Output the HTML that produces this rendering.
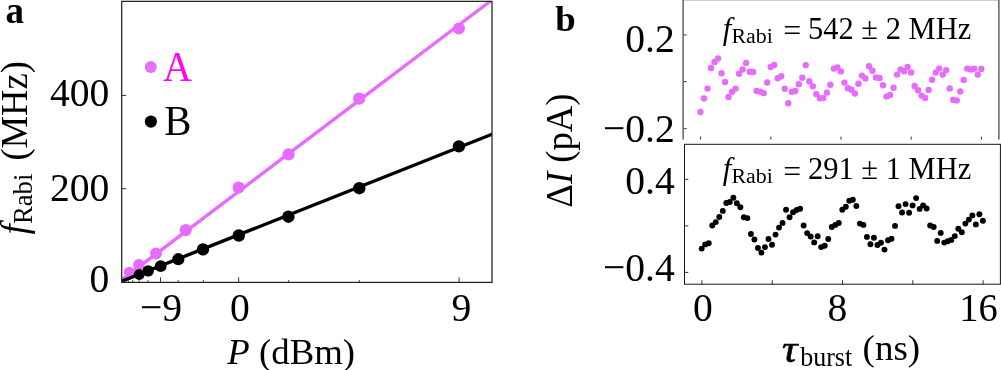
<!DOCTYPE html>
<html><head><meta charset="utf-8"><title>Figure</title>
<style>html,body{margin:0;padding:0;background:#fff;overflow:hidden}body{width:1001px;height:370px;position:relative}</style></head>
<body>
<svg width="1001" height="370" viewBox="0 0 1001 370" style="position:absolute;left:0;top:0">
<rect width="1001" height="370" fill="#fff"/>
<clipPath id="ca"><rect x="121.7" y="1.35" width="370.3" height="281.04999999999995"/></clipPath>
<g clip-path="url(#ca)">
<line x1="118" y1="282.7" x2="495" y2="-2.3" stroke="#e76bff" stroke-width="3.4"/>
<circle cx="129.3" cy="272.2" r="5.5" fill="#e76bff"/>
<circle cx="138.9" cy="264.8" r="5.7" fill="#e76bff"/>
<circle cx="156" cy="253.5" r="5.9" fill="#e76bff"/>
<circle cx="185.7" cy="230.1" r="6.1" fill="#e76bff"/>
<circle cx="238.6" cy="187.5" r="6.1" fill="#e76bff"/>
<circle cx="288.5" cy="154.4" r="6.1" fill="#e76bff"/>
<circle cx="359.2" cy="98.6" r="6.1" fill="#e76bff"/>
<circle cx="458.9" cy="28.5" r="6.1" fill="#e76bff"/>
<line x1="118" y1="282.7" x2="495" y2="133.1" stroke="#000" stroke-width="3.4"/>
<circle cx="139.3" cy="274.5" r="5.4" fill="#000"/>
<circle cx="148.2" cy="270.9" r="5.7" fill="#000"/>
<circle cx="160.7" cy="266.2" r="5.9" fill="#000"/>
<circle cx="178.3" cy="259.2" r="6.1" fill="#000"/>
<circle cx="203" cy="249.4" r="6.2" fill="#000"/>
<circle cx="238.8" cy="235.5" r="6.2" fill="#000"/>
<circle cx="288.4" cy="216.7" r="6.2" fill="#000"/>
<circle cx="359.3" cy="188.2" r="6.2" fill="#000"/>
<circle cx="458.9" cy="146.4" r="6.2" fill="#000"/>
</g>
<rect x="121.7" y="1.35" width="370.3" height="281.04999999999995" fill="none" stroke="#222" stroke-width="1.25"/>
<line x1="122.9" y1="282.4" x2="122.9" y2="280.2" stroke="#333" stroke-width="1"/>
<line x1="125.1" y1="282.4" x2="125.1" y2="280.2" stroke="#333" stroke-width="1"/>
<line x1="128.3" y1="282.4" x2="128.3" y2="280.2" stroke="#333" stroke-width="1"/>
<line x1="132.8" y1="282.4" x2="132.8" y2="280.2" stroke="#333" stroke-width="1"/>
<line x1="139.1" y1="282.4" x2="139.1" y2="280.2" stroke="#333" stroke-width="1"/>
<line x1="147.9" y1="282.4" x2="147.9" y2="280.2" stroke="#333" stroke-width="1"/>
<line x1="160.5" y1="282.4" x2="160.5" y2="277.4" stroke="#333" stroke-width="1"/>
<line x1="178.2" y1="282.4" x2="178.2" y2="280.2" stroke="#333" stroke-width="1"/>
<line x1="203.3" y1="282.4" x2="203.3" y2="280.2" stroke="#333" stroke-width="1"/>
<line x1="238.7" y1="282.4" x2="238.7" y2="277.4" stroke="#333" stroke-width="1"/>
<line x1="288.7" y1="282.4" x2="288.7" y2="280.2" stroke="#333" stroke-width="1"/>
<line x1="359.3" y1="282.4" x2="359.3" y2="280.2" stroke="#333" stroke-width="1"/>
<line x1="459.1" y1="282.4" x2="459.1" y2="277.4" stroke="#333" stroke-width="1"/>
<line x1="121.7" y1="95.4" x2="126.2" y2="95.4" stroke="#333" stroke-width="1"/>
<line x1="121.7" y1="188.7" x2="126.2" y2="188.7" stroke="#333" stroke-width="1"/>
<circle cx="150.8" cy="67" r="6.0" fill="#e572f6"/>
<circle cx="150.9" cy="121.6" r="6.1" fill="#000"/>
<g font-family="'Liberation Serif', serif" fill="#000">
<text transform="translate(163,80.6) scale(1,1.08)" font-size="40" text-anchor="start" fill="#ff00ff">A</text>
<text transform="translate(164.2,134.8) scale(1.02,1.07)" font-size="40" text-anchor="start">B</text>
<text transform="translate(5.6,23.4)" font-size="37" text-anchor="start" font-weight="bold">a</text>
<text transform="translate(555.2,30.9)" font-size="36.8" text-anchor="start" font-weight="bold">b</text>
<text transform="translate(109.3,106) scale(1,1.035)" font-size="39.6" text-anchor="end">400</text>
<text transform="translate(109.3,201.4) scale(1,1.035)" font-size="39.6" text-anchor="end">200</text>
<text transform="translate(109.3,292) scale(1,1.035)" font-size="39.6" text-anchor="end">0</text>
<text transform="translate(161,321) scale(1,1.035)" font-size="39.6" text-anchor="middle">−9</text>
<text transform="translate(239.9,321) scale(1,1.035)" font-size="39.6" text-anchor="middle">0</text>
<text transform="translate(461.4,321) scale(1,1.035)" font-size="39.6" text-anchor="middle">9</text>
<text transform="translate(227.3,363.7)" font-size="36.8" text-anchor="start"><tspan font-style="italic">P</tspan> (dBm)</text>
<text transform="translate(26.5,234.4) rotate(-90) scale(1,1.03)" font-size="37" text-anchor="start" font-style="italic">f</text>
<text transform="translate(31.9,224.1) rotate(-90) scale(1,1.03)" font-size="26.7" text-anchor="start">Rabi</text>
<text transform="translate(26.5,160.6) rotate(-90) scale(1,1.04)" font-size="36.6" text-anchor="start">(MHz)</text>
</g>
<path d="M683.1 139.6 V-0.25 H998.9 V139.6" fill="none" stroke="#3a3a3a" stroke-width="1.2"/>
<line x1="700.6" y1="139.6" x2="700.6" y2="136.6" stroke="#333" stroke-width="1"/>
<line x1="770.8" y1="139.6" x2="770.8" y2="136.6" stroke="#333" stroke-width="1"/>
<line x1="841.0" y1="139.6" x2="841.0" y2="136.6" stroke="#333" stroke-width="1"/>
<line x1="911.2" y1="139.6" x2="911.2" y2="136.6" stroke="#333" stroke-width="1"/>
<line x1="981.4" y1="139.6" x2="981.4" y2="136.6" stroke="#333" stroke-width="1"/>
<line x1="683.1" y1="34.9" x2="686.9" y2="34.9" stroke="#555" stroke-width="1"/>
<line x1="683.1" y1="81.6" x2="686.9" y2="81.6" stroke="#555" stroke-width="1"/>
<line x1="683.1" y1="128.6" x2="686.9" y2="128.6" stroke="#555" stroke-width="1"/>
<rect x="684.5" y="144.3" width="315.9" height="139.89999999999998" fill="none" stroke="#151515" stroke-width="1"/>
<line x1="701.9" y1="284.2" x2="701.9" y2="280.2" stroke="#333" stroke-width="1"/>
<line x1="772.2" y1="284.2" x2="772.2" y2="280.2" stroke="#333" stroke-width="1"/>
<line x1="842.5" y1="284.2" x2="842.5" y2="280.2" stroke="#333" stroke-width="1"/>
<line x1="912.8" y1="284.2" x2="912.8" y2="280.2" stroke="#333" stroke-width="1"/>
<line x1="983.1" y1="284.2" x2="983.1" y2="280.2" stroke="#333" stroke-width="1"/>
<line x1="684.5" y1="179.4" x2="688.3" y2="179.4" stroke="#333" stroke-width="1"/>
<line x1="684.5" y1="225.9" x2="688.3" y2="225.9" stroke="#333" stroke-width="1"/>
<line x1="684.5" y1="272.4" x2="688.3" y2="272.4" stroke="#333" stroke-width="1"/>
<circle cx="700.50" cy="112.0" r="3.2" fill="#e76bff"/>
<circle cx="704.01" cy="98.4" r="3.2" fill="#e76bff"/>
<circle cx="707.52" cy="88.6" r="3.2" fill="#e76bff"/>
<circle cx="711.03" cy="68" r="3.2" fill="#e76bff"/>
<circle cx="714.54" cy="61.9" r="3.2" fill="#e76bff"/>
<circle cx="718.05" cy="58.5" r="3.2" fill="#e76bff"/>
<circle cx="721.56" cy="73.3" r="3.2" fill="#e76bff"/>
<circle cx="725.07" cy="82" r="3.2" fill="#e76bff"/>
<circle cx="728.58" cy="96.9" r="3.2" fill="#e76bff"/>
<circle cx="732.09" cy="91.8" r="3.2" fill="#e76bff"/>
<circle cx="735.60" cy="88.6" r="3.2" fill="#e76bff"/>
<circle cx="739.11" cy="73.8" r="3.2" fill="#e76bff"/>
<circle cx="742.62" cy="69.5" r="3.2" fill="#e76bff"/>
<circle cx="746.13" cy="62.9" r="3.2" fill="#e76bff"/>
<circle cx="749.64" cy="71.8" r="3.2" fill="#e76bff"/>
<circle cx="753.15" cy="72" r="3.2" fill="#e76bff"/>
<circle cx="756.66" cy="90.9" r="3.2" fill="#e76bff"/>
<circle cx="760.17" cy="91.6" r="3.2" fill="#e76bff"/>
<circle cx="763.68" cy="93.1" r="3.2" fill="#e76bff"/>
<circle cx="767.19" cy="82.5" r="3.2" fill="#e76bff"/>
<circle cx="770.70" cy="67" r="3.2" fill="#e76bff"/>
<circle cx="774.21" cy="65" r="3.2" fill="#e76bff"/>
<circle cx="777.72" cy="78.2" r="3.2" fill="#e76bff"/>
<circle cx="781.23" cy="76.3" r="3.2" fill="#e76bff"/>
<circle cx="784.74" cy="88.8" r="3.2" fill="#e76bff"/>
<circle cx="788.25" cy="103.3" r="3.2" fill="#e76bff"/>
<circle cx="791.76" cy="91.8" r="3.2" fill="#e76bff"/>
<circle cx="795.27" cy="91.0" r="3.2" fill="#e76bff"/>
<circle cx="798.78" cy="84.3" r="3.2" fill="#e76bff"/>
<circle cx="802.29" cy="77.8" r="3.2" fill="#e76bff"/>
<circle cx="805.80" cy="65.1" r="3.2" fill="#e76bff"/>
<circle cx="809.31" cy="81.2" r="3.2" fill="#e76bff"/>
<circle cx="812.82" cy="86.2" r="3.2" fill="#e76bff"/>
<circle cx="816.33" cy="94.1" r="3.2" fill="#e76bff"/>
<circle cx="819.84" cy="98.3" r="3.2" fill="#e76bff"/>
<circle cx="823.35" cy="98.1" r="3.2" fill="#e76bff"/>
<circle cx="826.86" cy="92.6" r="3.2" fill="#e76bff"/>
<circle cx="830.37" cy="84.8" r="3.2" fill="#e76bff"/>
<circle cx="833.88" cy="68.6" r="3.2" fill="#e76bff"/>
<circle cx="837.39" cy="67.4" r="3.2" fill="#e76bff"/>
<circle cx="840.90" cy="71.4" r="3.2" fill="#e76bff"/>
<circle cx="844.41" cy="82.6" r="3.2" fill="#e76bff"/>
<circle cx="847.92" cy="88.2" r="3.2" fill="#e76bff"/>
<circle cx="851.43" cy="89.8" r="3.2" fill="#e76bff"/>
<circle cx="854.94" cy="93.5" r="3.2" fill="#e76bff"/>
<circle cx="858.45" cy="83.7" r="3.2" fill="#e76bff"/>
<circle cx="861.96" cy="75.6" r="3.2" fill="#e76bff"/>
<circle cx="865.47" cy="78.4" r="3.2" fill="#e76bff"/>
<circle cx="868.98" cy="66.3" r="3.2" fill="#e76bff"/>
<circle cx="872.49" cy="70.8" r="3.2" fill="#e76bff"/>
<circle cx="876.00" cy="77.5" r="3.2" fill="#e76bff"/>
<circle cx="879.51" cy="78" r="3.2" fill="#e76bff"/>
<circle cx="883.02" cy="85.2" r="3.2" fill="#e76bff"/>
<circle cx="886.53" cy="96.6" r="3.2" fill="#e76bff"/>
<circle cx="890.04" cy="94.9" r="3.2" fill="#e76bff"/>
<circle cx="893.55" cy="87.7" r="3.2" fill="#e76bff"/>
<circle cx="897.06" cy="74.6" r="3.2" fill="#e76bff"/>
<circle cx="900.57" cy="69.5" r="3.2" fill="#e76bff"/>
<circle cx="904.08" cy="71.2" r="3.2" fill="#e76bff"/>
<circle cx="907.59" cy="67" r="3.2" fill="#e76bff"/>
<circle cx="911.10" cy="72.5" r="3.2" fill="#e76bff"/>
<circle cx="914.61" cy="86" r="3.2" fill="#e76bff"/>
<circle cx="918.12" cy="90.3" r="3.2" fill="#e76bff"/>
<circle cx="921.63" cy="95.6" r="3.2" fill="#e76bff"/>
<circle cx="925.14" cy="97.9" r="3.2" fill="#e76bff"/>
<circle cx="928.65" cy="89.9" r="3.2" fill="#e76bff"/>
<circle cx="932.16" cy="79.7" r="3.2" fill="#e76bff"/>
<circle cx="935.67" cy="72.5" r="3.2" fill="#e76bff"/>
<circle cx="939.18" cy="68.6" r="3.2" fill="#e76bff"/>
<circle cx="942.69" cy="74.6" r="3.2" fill="#e76bff"/>
<circle cx="946.20" cy="70.1" r="3.2" fill="#e76bff"/>
<circle cx="949.71" cy="88.4" r="3.2" fill="#e76bff"/>
<circle cx="953.22" cy="99.8" r="3.2" fill="#e76bff"/>
<circle cx="956.73" cy="100.4" r="3.2" fill="#e76bff"/>
<circle cx="960.24" cy="91.5" r="3.2" fill="#e76bff"/>
<circle cx="963.75" cy="79.9" r="3.2" fill="#e76bff"/>
<circle cx="967.26" cy="68.6" r="3.2" fill="#e76bff"/>
<circle cx="970.77" cy="69.5" r="3.2" fill="#e76bff"/>
<circle cx="974.28" cy="68.6" r="3.2" fill="#e76bff"/>
<circle cx="977.79" cy="74.6" r="3.2" fill="#e76bff"/>
<circle cx="981.30" cy="68.9" r="3.2" fill="#e76bff"/>
<circle cx="701.70" cy="248.6" r="2.95" fill="#000"/>
<circle cx="705.22" cy="244.4" r="2.95" fill="#000"/>
<circle cx="708.73" cy="243.3" r="2.95" fill="#000"/>
<circle cx="712.25" cy="225.5" r="2.95" fill="#000"/>
<circle cx="715.76" cy="222.1" r="2.95" fill="#000"/>
<circle cx="719.28" cy="217" r="2.95" fill="#000"/>
<circle cx="722.79" cy="210.9" r="2.95" fill="#000"/>
<circle cx="726.31" cy="203" r="2.95" fill="#000"/>
<circle cx="729.82" cy="202" r="2.95" fill="#000"/>
<circle cx="733.34" cy="197.7" r="2.95" fill="#000"/>
<circle cx="736.85" cy="203.2" r="2.95" fill="#000"/>
<circle cx="740.37" cy="207.2" r="2.95" fill="#000"/>
<circle cx="743.88" cy="217.2" r="2.95" fill="#000"/>
<circle cx="747.40" cy="218.1" r="2.95" fill="#000"/>
<circle cx="750.91" cy="234" r="2.95" fill="#000"/>
<circle cx="754.43" cy="239.5" r="2.95" fill="#000"/>
<circle cx="757.94" cy="248" r="2.95" fill="#000"/>
<circle cx="761.46" cy="252.6" r="2.95" fill="#000"/>
<circle cx="764.97" cy="247.1" r="2.95" fill="#000"/>
<circle cx="768.49" cy="239" r="2.95" fill="#000"/>
<circle cx="772.00" cy="244.8" r="2.95" fill="#000"/>
<circle cx="775.52" cy="234.6" r="2.95" fill="#000"/>
<circle cx="779.03" cy="227.6" r="2.95" fill="#000"/>
<circle cx="782.55" cy="222.9" r="2.95" fill="#000"/>
<circle cx="786.06" cy="209.8" r="2.95" fill="#000"/>
<circle cx="789.58" cy="217.2" r="2.95" fill="#000"/>
<circle cx="793.09" cy="212.3" r="2.95" fill="#000"/>
<circle cx="796.61" cy="210" r="2.95" fill="#000"/>
<circle cx="800.12" cy="208.7" r="2.95" fill="#000"/>
<circle cx="803.63" cy="225.5" r="2.95" fill="#000"/>
<circle cx="807.15" cy="233.1" r="2.95" fill="#000"/>
<circle cx="810.67" cy="236.5" r="2.95" fill="#000"/>
<circle cx="814.18" cy="242.4" r="2.95" fill="#000"/>
<circle cx="817.70" cy="236.3" r="2.95" fill="#000"/>
<circle cx="821.21" cy="247.1" r="2.95" fill="#000"/>
<circle cx="824.73" cy="245.8" r="2.95" fill="#000"/>
<circle cx="828.24" cy="239" r="2.95" fill="#000"/>
<circle cx="831.76" cy="227" r="2.95" fill="#000"/>
<circle cx="835.27" cy="224.9" r="2.95" fill="#000"/>
<circle cx="838.79" cy="222.9" r="2.95" fill="#000"/>
<circle cx="842.30" cy="209.8" r="2.95" fill="#000"/>
<circle cx="845.82" cy="206.8" r="2.95" fill="#000"/>
<circle cx="849.33" cy="200.7" r="2.95" fill="#000"/>
<circle cx="852.85" cy="199.8" r="2.95" fill="#000"/>
<circle cx="856.36" cy="206" r="2.95" fill="#000"/>
<circle cx="859.88" cy="223.6" r="2.95" fill="#000"/>
<circle cx="863.39" cy="224.9" r="2.95" fill="#000"/>
<circle cx="866.91" cy="236.9" r="2.95" fill="#000"/>
<circle cx="870.42" cy="244.3" r="2.95" fill="#000"/>
<circle cx="873.94" cy="237.8" r="2.95" fill="#000"/>
<circle cx="877.45" cy="245" r="2.95" fill="#000"/>
<circle cx="880.97" cy="242.7" r="2.95" fill="#000"/>
<circle cx="884.48" cy="249.6" r="2.95" fill="#000"/>
<circle cx="888.00" cy="240.3" r="2.95" fill="#000"/>
<circle cx="891.51" cy="238.8" r="2.95" fill="#000"/>
<circle cx="895.03" cy="225.9" r="2.95" fill="#000"/>
<circle cx="898.54" cy="206.2" r="2.95" fill="#000"/>
<circle cx="902.06" cy="212.5" r="2.95" fill="#000"/>
<circle cx="905.57" cy="204.1" r="2.95" fill="#000"/>
<circle cx="909.09" cy="212.8" r="2.95" fill="#000"/>
<circle cx="912.60" cy="205.4" r="2.95" fill="#000"/>
<circle cx="916.12" cy="198.1" r="2.95" fill="#000"/>
<circle cx="919.63" cy="208.9" r="2.95" fill="#000"/>
<circle cx="923.15" cy="205.4" r="2.95" fill="#000"/>
<circle cx="926.66" cy="208.5" r="2.95" fill="#000"/>
<circle cx="930.18" cy="225.5" r="2.95" fill="#000"/>
<circle cx="933.69" cy="227" r="2.95" fill="#000"/>
<circle cx="937.21" cy="240.9" r="2.95" fill="#000"/>
<circle cx="940.72" cy="232.9" r="2.95" fill="#000"/>
<circle cx="944.24" cy="242.6" r="2.95" fill="#000"/>
<circle cx="947.75" cy="241.2" r="2.95" fill="#000"/>
<circle cx="951.27" cy="239.9" r="2.95" fill="#000"/>
<circle cx="954.78" cy="236.1" r="2.95" fill="#000"/>
<circle cx="958.30" cy="228.7" r="2.95" fill="#000"/>
<circle cx="961.81" cy="232.3" r="2.95" fill="#000"/>
<circle cx="965.33" cy="223.6" r="2.95" fill="#000"/>
<circle cx="968.84" cy="219.6" r="2.95" fill="#000"/>
<circle cx="972.36" cy="215.5" r="2.95" fill="#000"/>
<circle cx="975.87" cy="224.4" r="2.95" fill="#000"/>
<circle cx="979.38" cy="214.2" r="2.95" fill="#000"/>
<circle cx="982.90" cy="220.8" r="2.95" fill="#000"/>
<g font-family="'Liberation Serif', serif" fill="#000">
<text transform="translate(722.8,38.7) scale(1,1.03)" font-size="30.5" text-anchor="start" font-style="italic">f</text>
<text transform="translate(731.4,43.0)" font-size="21.9" text-anchor="start">Rabi</text>
<text transform="translate(783.2,41.1) scale(1.04,1)" font-size="30.5" text-anchor="start">=</text>
<text transform="translate(808.0,38.7) scale(1,1.035)" font-size="30.5" text-anchor="start">542 ± 2 MHz</text>
<text transform="translate(722.8,179.1) scale(1,1.03)" font-size="30.5" text-anchor="start" font-style="italic">f</text>
<text transform="translate(731.4,183.4)" font-size="21.9" text-anchor="start">Rabi</text>
<text transform="translate(783.2,181.5) scale(1.04,1)" font-size="30.5" text-anchor="start">=</text>
<text transform="translate(808.0,179.1) scale(1,1.035)" font-size="30.5" text-anchor="start">291 ± 1 MHz</text>
<text transform="translate(674.8,52) scale(1,1.035)" font-size="39.6" text-anchor="end">0.2</text>
<text transform="translate(674.8,142.4) scale(1,1.035)" font-size="39.6" text-anchor="end">−0.2</text>
<text transform="translate(674.8,193.6) scale(1,1.035)" font-size="39.6" text-anchor="end">0.4</text>
<text transform="translate(674.8,281.2) scale(1,1.035)" font-size="39.6" text-anchor="end">−0.4</text>
<text transform="translate(702.8,320.7) scale(1,1.035)" font-size="39.6" text-anchor="middle">0</text>
<text transform="translate(837.5,320.7) scale(1,1.035)" font-size="39.6" text-anchor="middle">8</text>
<text transform="translate(978.6,320.7) scale(0.975,1.035)" font-size="39.6" text-anchor="middle">16</text>
<text transform="translate(782.0,362.0) scale(1.12,1)" font-size="38.5" text-anchor="start" font-style="italic" stroke="#000" stroke-width="0.6" stroke-linejoin="round">τ</text>
<text transform="translate(800.2,365.9) scale(1,1.05)" font-size="26.0" text-anchor="start">burst</text>
<text transform="translate(862.6,360.4) scale(1,0.96)" font-size="37" text-anchor="start">(ns)</text>
<text transform="translate(572,207.7) rotate(-90) scale(1,1.04)" font-size="36.7" text-anchor="start">Δ<tspan font-style="italic">I</tspan> (pA)</text>
</g>
</svg>
</body></html>
